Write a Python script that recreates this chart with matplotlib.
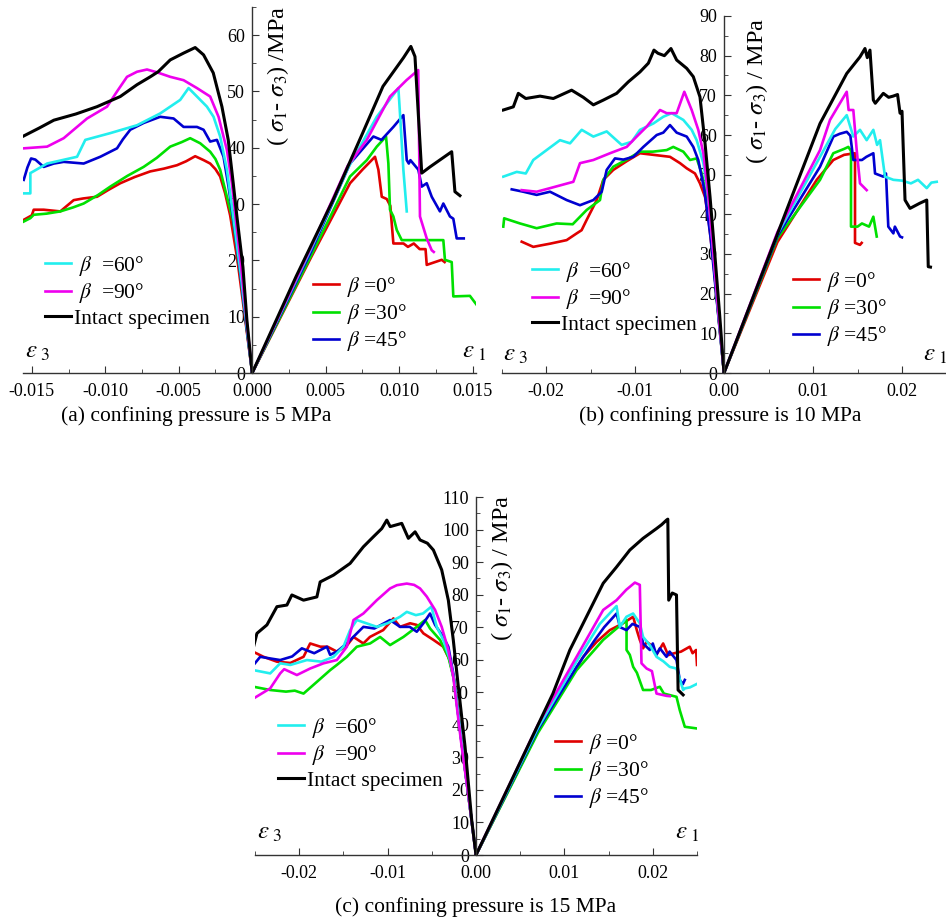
import matplotlib
matplotlib.use("Agg")
import matplotlib.pyplot as plt
from matplotlib.ticker import MultipleLocator, FormatStrFormatter

plt.rcParams["font.family"] = ["Liberation Serif", "DejaVu Serif"]
plt.rcParams["mathtext.fontset"] = "stix"
plt.rcParams["axes.unicode_minus"] = False

# ---- data: (strain, deviatoric stress MPa) ----
# (a) confining pressure 5 MPa
a_red_e3 = [(-0.01555, 27.2), (-0.0150, 28.0), (-0.01487, 29.0), (-0.01419, 29.0), (-0.01306, 28.7), (-0.01215, 30.7),
            (-0.0115, 31.0), (-0.01056, 31.3), (-0.0098, 32.5), (-0.00898, 33.7), (-0.0080, 34.8), (-0.00694, 35.8),
            (-0.0060, 36.3), (-0.00512, 36.9), (-0.0045, 37.6), (-0.00388, 38.5), (-0.0033, 37.8), (-0.00286, 37.2),
            (-0.0025, 36.2), (-0.00218, 34.9), (-0.00184, 31.9), (-0.0015, 28.0), (-0.0010, 20.0), (-0.0005, 10.0), (0, 0)]
a_green_e3 = [(-0.01555, 26.9), (-0.0151, 27.5), (-0.01487, 28.1), (-0.0140, 28.3), (-0.01306, 28.7), (-0.0122, 29.4),
              (-0.01147, 30.1), (-0.0105, 31.6), (-0.00966, 33.1), (-0.0085, 35.0), (-0.00739, 36.6), (-0.0065, 38.2),
              (-0.00558, 40.2), (-0.0048, 41.0), (-0.00422, 41.7), (-0.00354, 40.8), (-0.00286, 39.3), (-0.0025, 38.0),
              (-0.00218, 36.1), (-0.00172, 31.3), (-0.0013, 27.0), (-0.0008, 17.5), (-0.0004, 8.5), (0, 0)]
a_blue_e3 = [(-0.01555, 34.3), (-0.0153, 36.5), (-0.01505, 38.1), (-0.01476, 37.9), (-0.01419, 36.6), (-0.0135, 37.2),
             (-0.01283, 37.5), (-0.01147, 37.2), (-0.01034, 38.4), (-0.0092, 39.9), (-0.0088, 41.5), (-0.0083, 43.2),
             (-0.00739, 44.4), (-0.00626, 45.5), (-0.00535, 45.2), (-0.00467, 43.7), (-0.00376, 43.7), (-0.00331, 43.2),
             (-0.00286, 41.1), (-0.0024, 41.4), (-0.00195, 38.4), (-0.00161, 33.1), (-0.0013, 27.5), (-0.0008, 17.5),
             (-0.0004, 8.5), (0, 0)]
a_cyan_e3 = [(-0.01555, 31.9), (-0.0151, 31.9), (-0.0151, 35.5), (-0.01396, 37.2), (-0.01192, 38.4), (-0.01136, 41.4),
             (-0.00966, 42.6), (-0.00784, 44.0), (-0.00626, 46.1), (-0.0049, 48.5), (-0.00433, 50.6), (-0.00376, 49.1),
             (-0.00308, 47.3), (-0.00263, 45.5), (-0.00218, 42.0), (-0.00172, 36.1), (-0.0013, 28.0), (-0.0008, 18.0),
             (-0.0004, 9.0), (0, 0)]
a_magenta_e3 = [(-0.01555, 39.9), (-0.01396, 40.2), (-0.01283, 41.7), (-0.01215, 43.2), (-0.01124, 45.2),
                (-0.00988, 47.3), (-0.0092, 50.0), (-0.00852, 52.6), (-0.00784, 53.5), (-0.00716, 53.9),
                (-0.00648, 53.4), (-0.00558, 52.6), (-0.00467, 52.0), (-0.00376, 50.6), (-0.00286, 49.1),
                (-0.00229, 45.5), (-0.00172, 39.6), (-0.00138, 33.7), (-0.0011, 27.0), (-0.0007, 17.5),
                (-0.00035, 8.5), (0, 0)]
a_black_e3 = [(-0.01555, 42.1), (-0.0145, 43.5), (-0.0135, 44.9), (-0.0120, 46.0), (-0.01056, 47.3), (-0.00898, 49.1),
              (-0.00784, 51.2), (-0.00694, 52.6), (-0.0064, 53.5), (-0.00558, 55.6), (-0.00468, 56.8), (-0.00388, 57.8),
              (-0.00331, 56.5), (-0.00265, 53.3), (-0.00206, 47.3), (-0.00163, 41.4), (-0.00129, 33.7),
              (-0.00104, 27.8), (-0.00063, 18.8), (-0.00036, 9.4), (0, 0)]
a_red_e1 = [(0, 0), (0.0040, 20.5), (0.00666, 33.7), (0.0075, 36.1), (0.00836, 38.4), (0.00859, 36.1), (0.00882, 31.3),
            (0.00916, 30.9), (0.0094, 29.7), (0.00961, 23.0), (0.0103, 23.0), (0.0106, 22.4), (0.0110, 23.0),
            (0.0114, 22.0), (0.0118, 22.0), (0.01188, 19.2), (0.01256, 19.8), (0.0129, 20.1), (0.0131, 19.7)]
a_green_e1 = [(0, 0), (0.0040, 20.8), (0.00666, 34.9), (0.0078, 37.8), (0.00848, 40.2), (0.00911, 42.0),
              (0.00927, 37.2), (0.00938, 29.0), (0.00961, 27.8), (0.00984, 25.4), (0.01018, 23.6), (0.01165, 23.6),
              (0.01301, 23.6), (0.01312, 20.1), (0.01358, 19.7), (0.01369, 13.6), (0.01482, 13.7), (0.01528, 12.1)]
a_blue_e1 = [(0, 0), (0.0040, 21.5), (0.00666, 37.2), (0.00825, 42.0), (0.0088, 41.4), (0.00961, 43.7), (0.01029, 45.8),
             (0.01052, 37.8), (0.01066, 37.2), (0.01077, 37.8), (0.01131, 36.1), (0.01154, 33.1), (0.01188, 33.7),
             (0.01222, 31.3), (0.01278, 28.7), (0.01301, 30.1), (0.01346, 27.8), (0.01369, 27.4), (0.01392, 23.9),
             (0.0144, 23.9)]
a_cyan_e1 = [(0, 0), (0.0040, 22.0), (0.0065, 36.3), (0.00848, 45.5), (0.00995, 50.6), (0.01006, 46.1),
             (0.01029, 36.1), (0.01052, 28.7)]
a_magenta_e1 = [(0, 0), (0.0040, 22.3), (0.0065, 36.8), (0.0078, 41.4), (0.00938, 49.1), (0.0105, 52.0),
                (0.0113, 53.8), (0.01142, 27.8), (0.01188, 23.9), (0.01222, 21.8), (0.01236, 21.5)]
a_black_e1 = [(0, 0), (0.0030, 17.2), (0.0055, 30.7), (0.0075, 42.5), (0.0089, 50.9), (0.0103, 56.0), (0.0108, 58.0),
              (0.01108, 56.2), (0.01154, 35.5), (0.0121, 36.6), (0.01358, 39.3), (0.0138, 32.2), (0.01414, 31.5)]

# (b) confining pressure 10 MPa
b_red_e3 = [(-0.02273, 33.1), (-0.02143, 31.8), (-0.0205, 32.2), (-0.01955, 32.6), (-0.01768, 33.5), (-0.01655, 35.2),
            (-0.0160, 36.0), (-0.01543, 38.6), (-0.0143, 43.6), (-0.01356, 48.7), (-0.01244, 51.2), (-0.01093, 53.4),
            (-0.00944, 55.4), (-0.00794, 55.0), (-0.00607, 54.5), (-0.00494, 52.9), (-0.00419, 51.6), (-0.00326, 50.3),
            (-0.0027, 47.8), (-0.00213, 44.4), (-0.0017, 38.0), (-0.0012, 28.0), (-0.0006, 14.0), (0, 0)]
b_green_e3 = [(-0.0248, 36.9), (-0.0247, 39.0), (-0.02292, 37.7), (-0.02105, 36.5), (-0.0188, 37.7), (-0.0170, 37.5),
              (-0.01543, 41.1), (-0.01393, 43.6), (-0.01356, 48.7), (-0.01244, 52.0), (-0.01093, 53.8),
              (-0.00944, 55.8), (-0.0080, 55.8), (-0.00644, 56.2), (-0.0057, 57.0), (-0.00457, 55.8),
              (-0.00382, 53.7), (-0.00307, 54.1), (-0.0025, 50.3), (-0.0019, 44.0), (-0.0013, 31.0),
              (-0.0007, 16.0), (0, 0)]
b_blue_e3 = [(-0.02385, 46.3), (-0.02255, 45.7), (-0.02105, 44.9), (-0.01955, 45.7), (-0.01768, 43.6),
             (-0.01618, 42.3), (-0.01468, 43.6), (-0.01374, 45.7), (-0.01318, 51.2), (-0.01225, 54.1),
             (-0.01131, 53.8), (-0.01019, 54.5), (-0.00906, 57.0), (-0.00756, 60.0), (-0.00682, 60.6),
             (-0.00607, 62.5), (-0.00532, 60.6), (-0.00419, 59.6), (-0.00345, 57.0), (-0.00289, 53.7),
             (-0.0022, 46.0), (-0.0015, 34.0), (-0.0008, 18.0), (0, 0)]
b_cyan_e3 = [(-0.0248, 49.5), (-0.02329, 50.7), (-0.02227, 50.3), (-0.02143, 53.7), (-0.01993, 56.2), (-0.01843, 58.7),
             (-0.0173, 57.9), (-0.01599, 61.3), (-0.01468, 59.6), (-0.01318, 60.9), (-0.0115, 57.5), (-0.01037, 58.3),
             (-0.00944, 61.3), (-0.00794, 62.9), (-0.00682, 64.6), (-0.00588, 65.5), (-0.00457, 63.8),
             (-0.00363, 61.3), (-0.00307, 58.7), (-0.00232, 52.9), (-0.00176, 44.4), (-0.0013, 33.0),
             (-0.0007, 17.0), (0, 0)]
b_magenta_e3 = [(-0.02273, 46.1), (-0.02105, 45.7), (-0.01955, 46.6), (-0.01693, 48.2), (-0.01618, 52.9),
                (-0.01468, 53.7), (-0.01281, 55.4), (-0.01093, 57.0), (-0.00981, 59.6), (-0.00869, 62.1),
                (-0.00719, 66.3), (-0.00644, 65.5), (-0.00532, 65.5), (-0.00446, 70.9), (-0.00363, 66.3),
                (-0.00289, 61.3), (-0.00232, 55.4), (-0.00176, 44.4), (-0.0013, 33.0), (-0.0007, 17.0), (0, 0)]
b_black_e3 = [(-0.0248, 66.3), (-0.02367, 67.1), (-0.02311, 70.5), (-0.02227, 69.2), (-0.02067, 69.8),
              (-0.01918, 69.2), (-0.01712, 71.3), (-0.01581, 69.5), (-0.01468, 67.6), (-0.01356, 68.8),
              (-0.01206, 70.5), (-0.01075, 73.4), (-0.00944, 75.9), (-0.0085, 78.1), (-0.00787, 81.4),
              (-0.00742, 80.6), (-0.0067, 80.0), (-0.00596, 81.8), (-0.00532, 78.9), (-0.00419, 76.8),
              (-0.00345, 74.7), (-0.0027, 69.6), (-0.00213, 57.9), (-0.00157, 44.4), (-0.00101, 29.3),
              (-0.0005, 15.0), (0, 0)]
b_red_e1 = [(0, 0), (0.0060, 33.0), (0.01042, 48.7), (0.01228, 53.7), (0.0135, 55.0), (0.01472, 55.4),
            (0.01472, 32.8), (0.01528, 32.3), (0.01547, 32.8)]
b_green_e1 = [(0, 0), (0.0060, 34.0), (0.01079, 48.7), (0.01228, 55.4), (0.0135, 56.5), (0.01397, 57.0),
              (0.01427, 56.0), (0.01427, 36.9), (0.0150, 36.9), (0.0155, 37.7), (0.0163, 36.9), (0.01678, 39.4),
              (0.01716, 34.4)]
b_blue_e1 = [(0, 0), (0.0060, 34.5), (0.01079, 52.0), (0.01229, 59.6), (0.0130, 60.3), (0.01379, 60.8),
             (0.0142, 59.8), (0.01453, 53.7), (0.0155, 53.7), (0.0160, 54.5), (0.01678, 55.4), (0.01697, 50.3),
             (0.0179, 49.5), (0.0182, 50.3), (0.01846, 36.9), (0.01903, 35.2), (0.0192, 36.9), (0.01978, 34.4),
             (0.0200, 34.2)]
b_cyan_e1 = [(0, 0), (0.0060, 35.0), (0.01079, 54.5), (0.0125, 61.5), (0.01379, 65.0), (0.01453, 59.6),
             (0.01528, 61.3), (0.01603, 58.7), (0.01678, 61.3), (0.0172, 57.5), (0.01753, 58.7), (0.01809, 49.5),
             (0.01903, 48.7), (0.0200, 48.5), (0.0210, 47.8), (0.0218, 48.7), (0.02278, 46.6), (0.0233, 48.0),
             (0.0239, 48.2)]
b_magenta_e1 = [(0, 0), (0.0060, 35.5), (0.01079, 56.2), (0.01191, 63.8), (0.01379, 70.9), (0.0140, 66.3),
                (0.01453, 66.3), (0.01491, 56.2), (0.01528, 47.8), (0.01603, 46.1)]
b_black_e1 = [(0, 0), (0.00704, 41.1), (0.01079, 62.9), (0.01379, 75.5), (0.01528, 79.7), (0.01584, 81.8),
              (0.0161, 79.5), (0.0164, 81.4), (0.01678, 68.8), (0.0170, 68.0), (0.0179, 70.5), (0.0185, 69.5),
              (0.0190, 69.8), (0.0195, 70.2), (0.01978, 65.5), (0.0200, 66.0), (0.02034, 43.6), (0.0209, 41.5),
              (0.0220, 42.8), (0.02278, 43.6), (0.02295, 26.8), (0.0232, 26.7)]

# (c) confining pressure 15 MPa
c_red_e3 = [(-0.02516, 62.4), (-0.02404, 60.9), (-0.02252, 59.4), (-0.0210, 59.0), (-0.01951, 60.9), (-0.01876, 65.0),
            (-0.0176, 64.0), (-0.0168, 64.0), (-0.01574, 62.5), (-0.0147, 64.0), (-0.01386, 67.0), (-0.01274, 65.0),
            (-0.0120, 67.0), (-0.01122, 68.1), (-0.0105, 69.1), (-0.00934, 72.7), (-0.0086, 70.1), (-0.00746, 71.2),
            (-0.0067, 70.7), (-0.00595, 68.1), (-0.00482, 66.1), (-0.0037, 64.0), (-0.0030, 60.0), (-0.0024, 53.0),
            (-0.0016, 34.0), (-0.0008, 17.0), (0, 0)]
c_green_e3 = [(-0.02516, 51.7), (-0.02328, 50.7), (-0.0215, 50.2), (-0.0205, 50.5), (-0.01951, 49.6), (-0.018, 53.2),
              (-0.0165, 56.8), (-0.01574, 58.4), (-0.01461, 60.9), (-0.01348, 64.0), (-0.01198, 65.0),
              (-0.01085, 67.0), (-0.00972, 64.5), (-0.00821, 67.0), (-0.0067, 70.1), (-0.00576, 72.2),
              (-0.0052, 69.6), (-0.00407, 66.1), (-0.00313, 60.9), (-0.0025, 54.0), (-0.0016, 34.0),
              (-0.0008, 17.0), (0, 0)]
c_blue_e3 = [(-0.02516, 58.4), (-0.02441, 60.9), (-0.0233, 60.4), (-0.02215, 59.9), (-0.0208, 61.0), (-0.0197, 63.5),
             (-0.0183, 62.0), (-0.01687, 64.0), (-0.0165, 61.5), (-0.01574, 62.5), (-0.01461, 65.0), (-0.01348, 68.1),
             (-0.01274, 70.1), (-0.0115, 69.6), (-0.00972, 72.2), (-0.00859, 70.1), (-0.0075, 70.1), (-0.0067, 68.6),
             (-0.00595, 71.2), (-0.0052, 74.2), (-0.00463, 70.7), (-0.0037, 67.0), (-0.00313, 64.0),
             (-0.00257, 55.8), (-0.0017, 36.0), (-0.0008, 17.0), (0, 0)]
c_cyan_e3 = [(-0.02516, 56.8), (-0.02328, 55.8), (-0.02215, 58.9), (-0.0210, 58.4), (-0.01913, 59.9), (-0.0175, 59.4),
             (-0.01612, 60.9), (-0.015, 64.0), (-0.01424, 69.1), (-0.01348, 72.2), (-0.0124, 71.2), (-0.01122, 70.1),
             (-0.0100, 71.2), (-0.00859, 73.2), (-0.00783, 74.7), (-0.0068, 73.7), (-0.0060, 74.2), (-0.00505, 76.3),
             (-0.00444, 70.1), (-0.0037, 66.1), (-0.00294, 59.9), (-0.00249, 53.8), (-0.0016, 34.0),
             (-0.0008, 17.0), (0, 0)]
c_magenta_e3 = [(-0.02516, 48.1), (-0.02328, 51.2), (-0.02215, 55.8), (-0.0217, 57.1), (-0.02026, 55.3),
                (-0.01876, 57.3), (-0.01725, 58.9), (-0.01574, 59.9), (-0.01461, 64.0), (-0.01386, 72.2),
                (-0.01274, 74.2), (-0.01122, 78.3), (-0.00972, 81.9), (-0.00896, 82.9), (-0.00783, 83.4),
                (-0.0070, 83.0), (-0.00633, 81.9), (-0.00557, 79.4), (-0.00463, 75.3), (-0.00388, 70.1),
                (-0.00313, 63.0), (-0.00257, 54.7), (-0.0017, 35.0), (-0.0008, 17.0), (0, 0)]
c_black_e3 = [(-0.02516, 64.0), (-0.02478, 68.1), (-0.02365, 70.7), (-0.02252, 76.3), (-0.02139, 76.8),
              (-0.02083, 79.9), (-0.01951, 78.3), (-0.018, 79.3), (-0.01763, 83.9), (-0.01612, 86.0),
              (-0.01424, 89.6), (-0.01274, 94.7), (-0.0116, 97.8), (-0.01066, 100.3), (-0.01009, 102.9),
              (-0.00971, 100.9), (-0.0084, 101.9), (-0.00765, 97.3), (-0.00689, 99.3), (-0.00633, 96.8),
              (-0.0055, 95.8), (-0.00482, 93.7), (-0.00388, 87.6), (-0.00313, 78.3), (-0.00257, 66.1),
              (-0.002, 51.7), (-0.00124, 33.3), (-0.00049, 10.8), (0, 0)]
c_red_e1 = [(0, 0), (0.0070, 38.0), (0.01213, 60.9), (0.01365, 65.5), (0.01514, 69.1), (0.0165, 71.0),
            (0.01778, 73.2), (0.0182, 69.0), (0.01853, 66.1), (0.0189, 63.5), (0.0193, 65.5), (0.0198, 64.5),
            (0.02042, 61.6), (0.02117, 65.0), (0.02174, 61.4), (0.02229, 61.9), (0.0232, 62.5), (0.02418, 64.0),
            (0.0245, 62.0), (0.0249, 63.0), (0.0250, 58.4)]
c_green_e1 = [(0, 0), (0.0070, 37.5), (0.01138, 56.8), (0.01439, 66.1), (0.01703, 72.2), (0.01703, 63.0),
              (0.0174, 61.5), (0.01778, 57.8), (0.0182, 56.0), (0.0189, 50.7), (0.0198, 50.7), (0.02079, 51.7),
              (0.02125, 49.6), (0.02268, 48.6), (0.02305, 44.5), (0.02362, 39.4), (0.02494, 38.9)]
c_blue_e1 = [(0, 0), (0.0070, 38.5), (0.01138, 57.8), (0.01345, 66.1), (0.0145, 70.0), (0.0159, 74.2), (0.0163, 70.0),
             (0.01702, 69.1), (0.0177, 71.0), (0.01853, 70.1), (0.0189, 65.0), (0.01966, 63.0), (0.0200, 65.0),
             (0.0204, 61.5), (0.0208, 63.5), (0.02155, 60.9), (0.0219, 62.5), (0.02268, 59.9), (0.02305, 53.8),
             (0.0234, 52.5), (0.02362, 53.8)]
c_cyan_e1 = [(0, 0), (0.0070, 39.0), (0.01138, 59.5), (0.0140, 71.0), (0.0159, 76.5), (0.01627, 70.1),
             (0.01702, 73.2), (0.01777, 74.2), (0.01853, 71.2), (0.0189, 67.0), (0.01966, 64.5), (0.02042, 60.9),
             (0.0212, 59.5), (0.02192, 57.8), (0.02268, 57.3), (0.02343, 50.7), (0.02362, 51.2), (0.0242, 51.5),
             (0.02494, 52.5)]
c_magenta_e1 = [(0, 0), (0.0070, 40.0), (0.01138, 60.9), (0.01439, 75.3), (0.0159, 78.3), (0.0170, 81.5),
                (0.01797, 83.7), (0.01853, 83.0), (0.01872, 58.9), (0.0193, 57.3), (0.0199, 56.5), (0.02042, 49.6),
                (0.02155, 48.9), (0.02192, 48.8)]
c_black_e1 = [(0, 0), (0.0087, 49.6), (0.01062, 63.0), (0.01439, 83.5), (0.0159, 88.5), (0.0174, 93.7),
              (0.0189, 97.3), (0.02042, 100.3), (0.0210, 101.5), (0.02155, 102.9), (0.0217, 103.2), (0.0218, 78.3),
              (0.0222, 80.5), (0.02268, 79.9), (0.02286, 50.7), (0.02343, 49.2)]

labels = ["$\\beta$ =0°", "$\\beta$ =30°", "$\\beta$ =45°", " $\\beta$  =60°", " $\\beta$  =90°", "Intact specimen"]
colors = ["#e00000", "#00e000", "#0000d0", "#22eeee", "#ee00ee", "black"]
captions = ["(a) confining pressure is 5 MPa", "(b) confining pressure is 10 MPa",
            "(c) confining pressure is 15 MPa"]

W, H = 946, 921
fig = plt.figure(figsize=(W / 100, H / 100), dpi=100)


def fx(px):
    return px / W


def fy(py):
    return 1 - py / H


def draw_panel(rect, xlim, ymax, xstep, xfmt, curves, ylabel, ylab_pos, eps_y, eps3_x, eps1_x,
               leg_l, leg_r, cap_pos, caption):
    ax = fig.add_axes(rect)
    handles = []
    for (e3, e1), color in zip(curves, colors):
        lw = 2.2 if color == "black" else 1.9
        for pts in (e3, e1):
            xs, ys = zip(*pts)
            line, = ax.plot(xs, ys, color=color, lw=lw)
        handles.append(line)
    ax.set_xlim(*xlim)
    ax.set_ylim(0, ymax)
    ax.spines["left"].set_position(("data", 0))
    ax.spines["top"].set_visible(False)
    ax.spines["right"].set_visible(False)
    for s in ("left", "bottom"):
        ax.spines[s].set_color("#333333")
        ax.spines[s].set_linewidth(1.0)
    ax.set_axisbelow(True)
    ax.xaxis.set_major_locator(MultipleLocator(xstep))
    ax.xaxis.set_minor_locator(MultipleLocator(xstep / 2))
    ax.xaxis.set_major_formatter(FormatStrFormatter(xfmt))
    ax.yaxis.set_major_locator(MultipleLocator(10))
    ax.yaxis.set_minor_locator(MultipleLocator(5))
    ax.tick_params(which="both", direction="in", labelsize=13, color="#333333")
    ax.tick_params(axis="x", pad=7)
    ax.tick_params(axis="y", pad=5)
    ax.tick_params(which="major", length=5)
    ax.tick_params(which="minor", length=3)

    fig.text(fx(ylab_pos[0]), fy(ylab_pos[1]), ylabel, rotation=90, ha="center", va="top", fontsize=17.5)
    fig.text(fx(eps3_x), fy(eps_y), r"$\varepsilon_{\ 3}$", ha="left", va="center", fontsize=18)
    fig.text(fx(eps1_x), fy(eps_y), r"$\varepsilon_{\ 1}$", ha="left", va="center", fontsize=18)

    lk = dict(frameon=False, fontsize=15.5, handlelength=1.2, handletextpad=0.15, labelspacing=0.15,
              borderpad=0, borderaxespad=0, loc="upper left", bbox_transform=fig.transFigure)
    lg = ax.legend(handles[3:], labels[3:], bbox_to_anchor=(fx(leg_l[0]), fy(leg_l[1])), **lk)
    ax.add_artist(lg)
    ax.legend(handles[:3], [" " + t for t in labels[:3]], bbox_to_anchor=(fx(leg_r[0]), fy(leg_r[1])), **lk)

    fig.text(fx(cap_pos[0]), fy(cap_pos[1]), caption, ha="center", va="center", fontsize=15.5)
    return ax


draw_panel([fx(23), fy(373), fx(475.5) - fx(23), fy(7) - fy(373)], (-0.0156, 0.0152), 65, 0.005, "%.3f",
           [(a_red_e3, a_red_e1), (a_green_e3, a_green_e1), (a_blue_e3, a_blue_e1),
            (a_cyan_e3, a_cyan_e1), (a_magenta_e3, a_magenta_e1), (a_black_e3, a_black_e1)],
           r"( $\sigma_{1}$- $\sigma_{3}$) /MPa", (278, 6), 352, 25, 462,
           (45, 254), (313, 275), (196, 416), captions[0])

draw_panel([fx(501.5), fy(373), fx(946.5) - fx(501.5), fy(16) - fy(373)], (-0.025, 0.025), 90, 0.01, "%.2f",
           [(b_red_e3, b_red_e1), (b_green_e3, b_green_e1), (b_blue_e3, b_blue_e1),
            (b_cyan_e3, b_cyan_e1), (b_magenta_e3, b_magenta_e1), (b_black_e3, b_black_e1)],
           r"( $\sigma_{1}$- $\sigma_{3}$) / MPa", (757, 18), 355, 503, 923,
           (532, 260), (793, 270), (720, 416), captions[1])

draw_panel([fx(255), fy(855), fx(697) - fx(255), fy(497) - fy(855)], (-0.025, 0.025), 110, 0.01, "%.2f",
           [(c_red_e3, c_red_e1), (c_green_e3, c_green_e1), (c_blue_e3, c_blue_e1),
            (c_cyan_e3, c_cyan_e1), (c_magenta_e3, c_magenta_e1), (c_black_e3, c_black_e1)],
           r"( $\sigma_{1}$- $\sigma_{3}$) / MPa", (502, 495), 833, 257, 675,
           (278, 716), (555, 732), (476, 907), captions[2])

fig.savefig("out.png", dpi=100)
